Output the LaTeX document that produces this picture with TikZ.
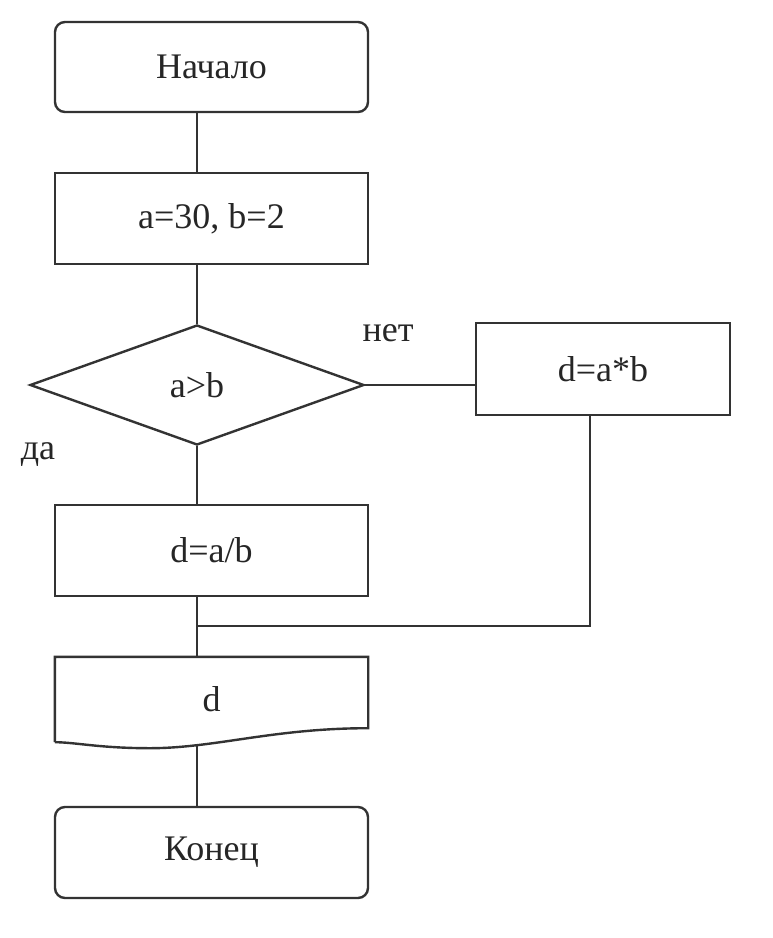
\documentclass[tikz,border=0pt]{standalone}
\usepackage{fontspec}
\setmainfont{Liberation Serif}
\usetikzlibrary{shapes.geometric,calc}
\begin{document}
\begin{tikzpicture}[x=1pt,y=-1pt,
  every node/.style={font=\fontsize{36}{40}\selectfont, text=black!85},
  line/.style={draw=black!80, line width=2.4pt},
  blk/.style={line, rectangle, minimum width=313pt, inner sep=0pt},
  term/.style={blk, rounded corners=10pt},
  lbl/.style={inner sep=0pt}]
\useasboundingbox (0,0) rectangle (772,938);
\fill[white] (0,0) rectangle (772,938);
\coordinate (axis) at (197,0);
\node[term, minimum height=90pt] (start) at (211.5,67) {Начало};
\node[blk, minimum height=91pt] (init) at (211.5,218.5) {a=30, b=2};
\node[line, diamond, minimum width=334pt, minimum height=120pt, inner sep=0pt] (cond) at (197,385) {a>b};
\node[blk, minimum width=254pt, minimum height=92pt] (mult) at (603,369) {d=a*b};
\node[blk, minimum height=91pt] (div) at (211.5,550.5) {d=a/b};
\node[rectangle, minimum width=313pt, minimum height=85pt, inner sep=0pt] (out) at (211.5,699.5) {d};
\draw[line] (out.south west) -- (out.north west) -- (out.north east) -- ($(out.south east)+(0,-14)$)
  .. controls ($(out.south east)+(-95,-14)$) and ($(out.south west)+(160,6)$) .. ($(out.south west)+(95,6)$)
  .. controls ($(out.south west)+(45,6)$) and ($(out.south west)+(20,0)$) .. (out.south west);
\node[term, minimum height=91pt] (end) at (211.5,852.5) {Конец};
\node[lbl] (no) at (388,333) {нет};
\node[lbl] (yes) at (38,455) {да};
\coordinate (join) at (197,626);
\coordinate (rjoin) at (590,626);
\coordinate (docbot) at (197,746);
\draw[line] (start.south -| axis) -- (init.north -| axis);
\draw[line] (init.south -| axis) -- (cond.north);
\draw[line] (cond.east) -- (cond.east -| mult.west);
\draw[line] (cond.south) -- (div.north -| axis);
\draw[line] (mult.south -| rjoin) -- (rjoin) -- (join);
\draw[line] (div.south -| axis) -- (out.north -| axis);
\draw[line] (docbot) -- (end.north -| axis);
\end{tikzpicture}
\end{document}
